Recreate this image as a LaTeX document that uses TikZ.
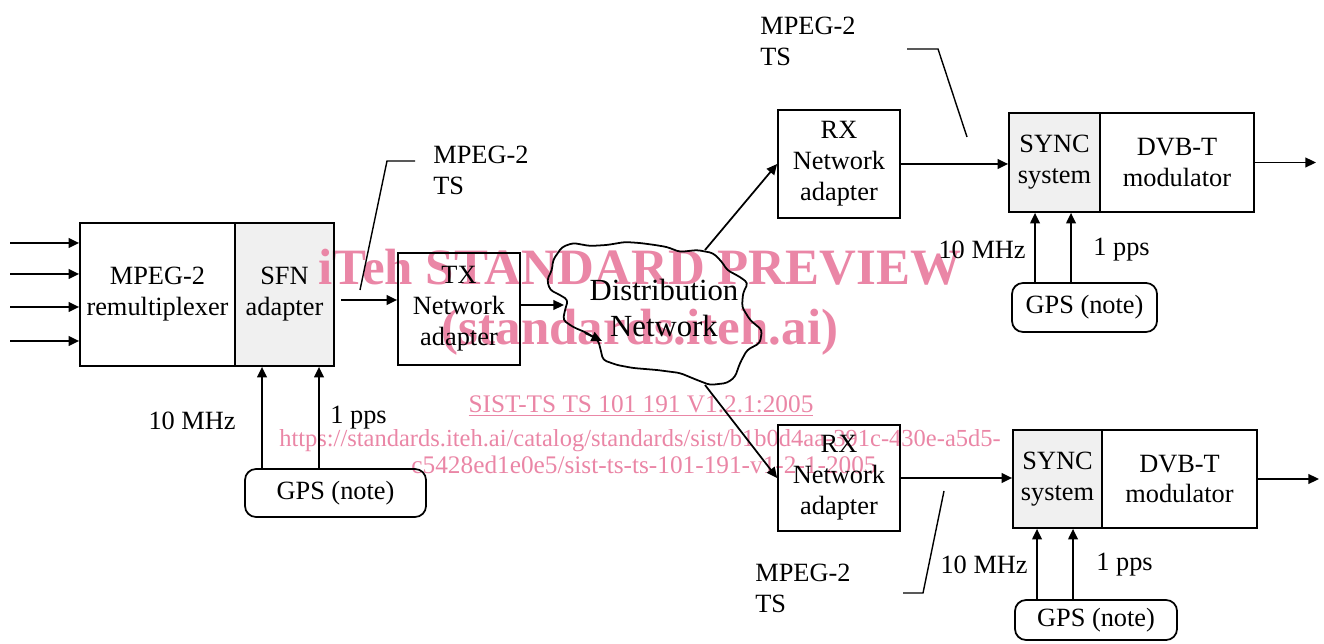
\documentclass[tikz,border=0pt]{standalone}
\usepackage{fontspec}
\setmainfont{Liberation Serif}
\usetikzlibrary{arrows.meta}
\definecolor{wmpink}{RGB}{234,134,166}
\definecolor{panel}{gray}{0.94}
\pgfdeclarelayer{bg}
\pgfdeclarelayer{mark}
\pgfsetlayers{bg,mark,main}
\tikzset{
  wh/.style 2 args={minimum width=#1*0.02cm, minimum height=#2*0.02cm},
  blk/.style={draw, line width=1pt, inner sep=0pt, align=center, font=\fontsize{15}{17.6}\selectfont},
  gpsbox/.style={blk, rounded corners=0.22cm},
  arr/.style={line width=1pt, -{Triangle[length=6pt,width=5.5pt]}},
  lead/.style={line width=0.8pt},
  lbl/.style={inner sep=0pt, font=\fontsize{15}{17.6}\selectfont},
  wm/.style={inner sep=0pt, text=wmpink},
}
\begin{document}
\begin{tikzpicture}[x=0.02cm,y=-0.02cm]
\useasboundingbox (0,0) rectangle (1324,644);

% ---------- blocks ----------
\node[blk, wh={155}{143}] (remux) at (157.5,294.5) {MPEG-2\\remultiplexer};
\node[blk, wh={99}{143}]  (sfn)   at (284.5,294.5) {SFN\\adapter};
\node[gpsbox, wh={181}{48}] (gpsA) at (335.5,493) {GPS (note)};
\node[blk, wh={122}{112}] (tx)    at (459,309) {TX\\Network\\adapter};

\node[blk, wh={122}{108}] (rxA)   at (839,164) {RX\\Network\\adapter};
\node[blk, wh={91}{99}]   (syncA) at (1054.5,162.5) {SYNC\\system};
\node[blk, wh={154}{99}]  (modA)  at (1177,162.5) {DVB-T\\modulator};
\node[gpsbox, wh={145}{49}] (gpsB) at (1084.5,307.5) {GPS (note)};

\node[blk, wh={122}{106}] (rxB)   at (839,478) {RX\\Network\\adapter};
\node[blk, wh={89}{98}]   (syncB) at (1057.5,479) {SYNC\\system};
\node[blk, wh={155}{98}]  (modB)  at (1179.5,479) {DVB-T\\modulator};
\node[gpsbox, wh={162}{40}] (gpsC) at (1096,620) {GPS (note)};

% shaded sub-blocks
\begin{pgfonlayer}{bg}
  \fill[panel] (sfn.north west) rectangle (sfn.south east);
  \fill[panel] (syncA.north west) rectangle (syncA.south east);
  \fill[panel] (syncB.north west) rectangle (syncB.south east);
\end{pgfonlayer}

% ---------- distribution network cloud ----------
\draw[line width=1pt, rounded corners=2pt]
  (562,247) -- (573,243) -- (590,246) -- (607,245) -- (625,242) -- (640,243)
  -- (655,245) -- (667,247) -- (680,252) -- (697,250) -- (713,253) -- (722,262)
  -- (727,270) -- (740,277) -- (748,283) -- (743,293) -- (742,307) -- (750,320)
  -- (762,330) -- (760,343) -- (747,350) -- (740,363) -- (735,377) -- (727,383)
  -- (710,385) -- (697,380) -- (680,373) -- (657,370) -- (633,368) -- (617,365)
  -- (603,360) -- (600,347) -- (598,340) -- (587,333) -- (573,327) -- (563,320)
  -- (565,310) -- (568,300) -- (560,295) -- (550,290) -- (547,280) -- (552,270)
  -- (553,260) -- cycle;
\node[inner sep=0pt, align=center, font=\fontsize{17.5}{20.4}\selectfont] (dist) at (664,308) {Distribution\\Network};
\coordinate (clW) at (564,305);
\coordinate (clT) at (705,250);
\coordinate (clB) at (705,385);
\coordinate (tipA) at (585,333);
\coordinate (tipB) at (602,341);
\draw[arr] (tipA) -- (tipB);

% ---------- watermark ----------
\begin{pgfonlayer}{mark}
  \node[wm, anchor=base, font=\fontsize{29}{29}\selectfont\bfseries] (wmA) at (640,285) {iTeh STANDARD PREVIEW};
  \node[wm, anchor=base, font=\fontsize{29}{29}\selectfont\bfseries] (wmB) at (640,345) {(standards.iteh.ai)};
  \node[wm, anchor=base, font=\fontsize{14.4}{14.4}\selectfont] (wmC) at (641,413) {\underline{SIST-TS TS 101 191 V1.2.1:2005}};
  \node[wm, anchor=base, font=\fontsize{13.95}{14}\selectfont] (wmD) at (640,447) {https://standards.iteh.ai/catalog/standards/sist/b1b0d4aa-391c-430e-a5d5-};
  \node[wm, anchor=base, font=\fontsize{14.4}{14.4}\selectfont] (wmE) at (644,474) {c5428ed1e0e5/sist-ts-ts-101-191-v1-2-1-2005};
\end{pgfonlayer}

% ---------- inputs to the remultiplexer ----------
\foreach \yy [count=\i] in {243,274,307,341}{
  \coordinate (in\i) at (10,\yy);
  \draw[arr] (in\i) -- (in\i -| remux.west);
}

% ---------- transport stream path ----------
\coordinate (txin) at (341,300);
\draw[arr] (txin) -- (txin -| tx.west);
\draw[arr] (tx.east |- clW) -- (clW);
\draw[arr] (clT) -- (rxA.west);
\draw[arr] (clB) -- (rxB.west);
\draw[arr] (rxA.east) -- (rxA.east -| syncA.west);
\draw[arr] (rxB.east) -- (rxB.east -| syncB.west);
\coordinate (outA) at (1316,0);
\coordinate (outB) at (1319,0);
\draw[arr] (modA.east) -- (modA.east -| outA);
\draw[arr] (modB.east) -- (modB.east -| outB);

% ---------- GPS references ----------
\coordinate (gA1) at (262,0);  \coordinate (gA2) at (319,0);
\coordinate (gB1) at (1035,0); \coordinate (gB2) at (1071,0);
\coordinate (gC1) at (1037,0); \coordinate (gC2) at (1073,0);
\draw[arr] (gpsA.north -| gA1) -- (sfn.south -| gA1);
\draw[arr] (gpsA.north -| gA2) -- (sfn.south -| gA2);
\draw[arr] (gpsB.north -| gB1) -- (syncA.south -| gB1);
\draw[arr] (gpsB.north -| gB2) -- (syncA.south -| gB2);
\draw[arr] (gpsC.north -| gC1) -- (syncB.south -| gC1);
\draw[arr] (gpsC.north -| gC2) -- (syncB.south -| gC2);

\node[lbl, anchor=east] (fA) at (236,421) {10 MHz};
\node[lbl, anchor=west] (pA) at (330,418) {1 pps};
\node[lbl, anchor=east] (fB) at (1026,250) {10 MHz};
\node[lbl, anchor=west] (pB) at (1093,250) {1 pps};
\node[lbl, anchor=east] (fC) at (1028,565) {10 MHz};
\node[lbl, anchor=west] (pC) at (1096,565) {1 pps};

% ---------- MPEG-2 TS callouts ----------
\node[lbl, anchor=west, align=left] (tsA) at (433,170) {MPEG-2\\TS};
\node[lbl, anchor=west, align=left] (tsB) at (760,41) {MPEG-2\\TS};
\node[lbl, anchor=west, align=left] (tsC) at (755,588) {MPEG-2\\TS};
\coordinate (lA1) at (360,290); \coordinate (lA2) at (387,161); \coordinate (lA3) at (415,161);
\coordinate (lB1) at (967,137); \coordinate (lB2) at (938,49);  \coordinate (lB3) at (907,49);
\coordinate (lC1) at (944,491); \coordinate (lC2) at (923,593); \coordinate (lC3) at (903,593);
\draw[lead] (lA1) -- (lA2) -- (lA3);
\draw[lead] (lB1) -- (lB2) -- (lB3);
\draw[lead] (lC1) -- (lC2) -- (lC3);
\end{tikzpicture}
\end{document}
